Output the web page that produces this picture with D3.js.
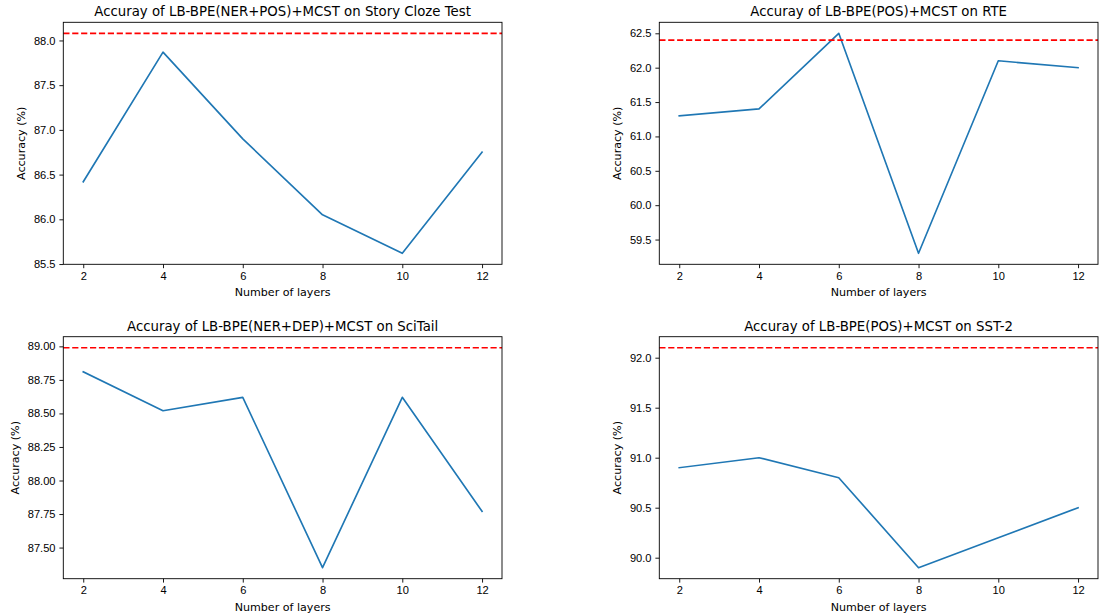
<!DOCTYPE html>
<html>
<head>
<meta charset="utf-8">
<script src="https://cdn.jsdelivr.net/npm/d3@7"></script>
<style>
  body { margin: 0; background: #fff; }
  svg { display: block; font-family: "DejaVu Sans", sans-serif; }
  .tick text { font-size: 11.1px; fill: #000; }
  .tick line { stroke: #000; stroke-width: 0.9; }
  .axlabel { font-size: 11.1px; fill: #000; }
  .title { font-size: 13.3px; fill: #000; }
</style>
</head>
<body>
<div id="chart"></div>
<script>
  // number of layers on the x axis
  const layers = [2, 4, 6, 8, 10, 12]

  // accuracy per number of layers
  const storyCloze = [86.42, 87.87, 86.90, 86.05, 85.62, 86.75]
  const rte        = [61.3, 61.4, 62.5, 59.3, 62.1, 62.0]
  const sciTail    = [88.81, 88.52, 88.62, 87.35, 88.62, 87.77]
  const sst2       = [90.9, 91.0, 90.8, 89.9, 90.2, 90.5]

  // reference (red dashed) lines
  const baselines = [88.08, 62.4, 88.99, 92.1]

  const titles = [
    "Accuray of LB-BPE(NER+POS)+MCST on Story Cloze Test",
    "Accuray of LB-BPE(POS)+MCST on RTE",
    "Accuray of LB-BPE(NER+DEP)+MCST on SciTail",
    "Accuray of LB-BPE(POS)+MCST on SST-2"
  ]

  const yTicks = [
    [85.5, 86.0, 86.5, 87.0, 87.5, 88.0],
    [59.5, 60.0, 60.5, 61.0, 61.5, 62.0, 62.5],
    [87.50, 87.75, 88.00, 88.25, 88.50, 88.75, 89.00],
    [90.0, 90.5, 91.0, 91.5, 92.0]
  ]
  const yFormats = [".1f", ".1f", ".2f", ".1f"]
  const series = [storyCloze, rte, sciTail, sst2]

  const width = 1099, height = 613
  const colX = [63.3, 659.3], rowY = [22.3, 336.7]
  const axW = 438.7, axH = 242

  const svg = d3.select("#chart").append("svg")
      .attr("width", width)
      .attr("height", height)

  svg.append("rect").attr("width", width).attr("height", height).attr("fill", "#fff")

  series.forEach(function (values, i) {
    const x0 = colX[i % 2], y0 = rowY[Math.floor(i / 2)]
    const g = svg.append("g").attr("transform", "translate(" + x0 + "," + y0 + ")")

    // matplotlib style 5% margins
    const lo = Math.min(d3.min(values), baselines[i])
    const hi = Math.max(d3.max(values), baselines[i])
    const pad = (hi - lo) * 0.05

    const x = d3.scaleLinear().domain([1.5, 12.5]).range([0, axW])
    const y = d3.scaleLinear().domain([lo - pad, hi + pad]).range([axH, 0])

    const line = d3.line().x((d, j) => x(layers[j])).y(d => y(d))

    g.append("path")
        .datum(values)
        .attr("d", line)
        .attr("fill", "none")
        .attr("stroke", "#1f77b4")
        .attr("stroke-width", 1.65)
        .attr("stroke-linejoin", "round")
        .attr("stroke-linecap", "square")

    g.append("line")
        .attr("x1", 0).attr("x2", axW)
        .attr("y1", y(baselines[i])).attr("y2", y(baselines[i]))
        .attr("stroke", "#ff0000")
        .attr("stroke-width", 1.65)
        .attr("stroke-dasharray", "6.2,2.7")

    const xAxis = g.append("g")
        .attr("transform", "translate(0," + axH + ")")
        .call(d3.axisBottom(x).tickValues(layers).tickSize(3.9).tickPadding(3.9))
    xAxis.select(".domain").remove()

    const yAxis = g.append("g")
        .call(d3.axisLeft(y).tickValues(yTicks[i]).tickFormat(d3.format(yFormats[i])).tickSize(3.9).tickPadding(3.9))
    yAxis.select(".domain").remove()

    g.append("rect")
        .attr("width", axW).attr("height", axH)
        .attr("fill", "none")
        .attr("stroke", "#000")
        .attr("stroke-width", 0.9)

    const bb = yAxis.node().getBBox()

    g.append("text")
        .attr("class", "axlabel")
        .attr("text-anchor", "middle")
        .attr("transform", "translate(" + (bb.x - 8.5) + "," + (axH / 2) + ") rotate(-90)")
        .text("Accuracy (%)")

    g.append("text")
        .attr("class", "axlabel")
        .attr("text-anchor", "middle")
        .attr("x", axW / 2)
        .attr("y", axH + 32)
        .text("Number of layers")

    g.append("text")
        .attr("class", "title")
        .attr("text-anchor", "middle")
        .attr("x", axW / 2)
        .attr("y", -6)
        .text(titles[i])
  })
</script>
</body>
</html>
